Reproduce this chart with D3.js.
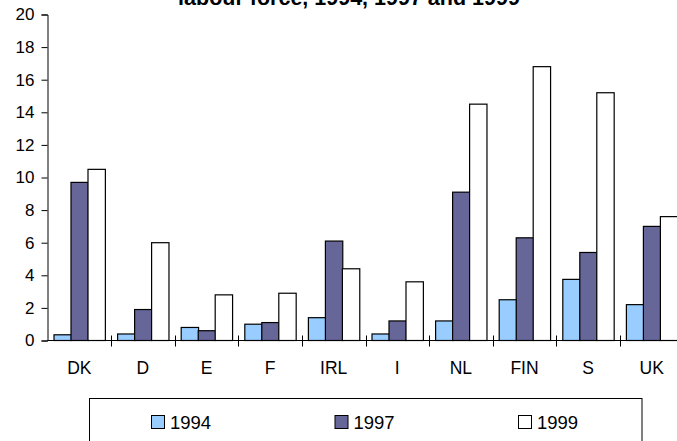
<!DOCTYPE html>
<html>
<head>
<meta charset="utf-8">
<script src="https://cdn.jsdelivr.net/npm/d3@7/dist/d3.min.js"></script>
<style>
  html, body { margin: 0; padding: 0; background: #fff; overflow: hidden; }
  svg { display: block; font-family: Arial, "Liberation Sans", sans-serif; }
</style>
</head>
<body>
<svg id="chart" width="677" height="441"></svg>
<script>
// ---- data ----
const categories = ["DK", "D", "E", "F", "IRL", "I", "NL", "FIN", "S", "UK"];
const seriesNames = ["1994", "1997", "1999"];
const values1994 = [0.35, 0.4, 0.8, 1.0, 1.4, 0.4, 1.2, 2.5, 3.75, 2.2];
const values1997 = [9.7, 1.9, 0.6, 1.1, 6.1, 1.2, 9.1, 6.3, 5.4, 7.0];
const values1999 = [10.5, 6.0, 2.8, 2.9, 4.4, 3.6, 14.5, 16.8, 15.2, 7.6];
const yTicks = [0, 2, 4, 6, 8, 10, 12, 14, 16, 18, 20];
const titleText = "labour force, 1994, 1997 and 1999";
const colors = ["#99CCFF", "#666699", "#FFFFFF"];

const seriesValues = [values1994, values1997, values1999];

const svg = d3.select("#chart");

const plotLeft = 47.5, plotRight = 683.5, plotTop = 14.5, plotBottom = 340.5;

const x0 = d3.scaleBand().domain(categories).range([plotLeft, plotRight]).paddingInner(0).paddingOuter(0);
const x1 = d3.scaleBand().domain(seriesNames).range([0, x0.bandwidth()]).paddingInner(0).paddingOuter(0.33);
const y = d3.scaleLinear().domain([0, 20]).range([plotBottom, plotTop]);

// title (partly cut off at top)
svg.append("text")
  .attr("x", 349).attr("y", 5)
  .attr("text-anchor", "middle")
  .attr("font-weight", "bold")
  .attr("font-size", "21.5px")
  .attr("fill", "#000")
  .text(titleText);

// bars
const groups = svg.append("g").selectAll("g")
  .data(categories)
  .join("g")
  .attr("transform", d => `translate(${x0(d)},0)`);

groups.selectAll("rect")
  .data((c, ci) => seriesNames.map((s, si) => ({ s, si, v: seriesValues[si][ci] })))
  .join("rect")
  .attr("x", d => Math.round(x1(d.s)) + 0.5)
  .attr("width", x1.bandwidth())
  .attr("y", d => y(d.v))
  .attr("height", d => y(0) - y(d.v))
  .attr("fill", d => colors[d.si])
  .attr("stroke", "#000")
  .attr("stroke-width", 1.2);

// y axis
const yAxis = d3.axisLeft(y).tickValues(yTicks).tickSize(6).tickPadding(7).tickFormat(d3.format("d"));
const gy = svg.append("g").attr("transform", `translate(${plotLeft},0)`).call(yAxis);
gy.select(".domain").attr("stroke", "#000");
gy.selectAll(".tick line").attr("stroke", "#000");
gy.selectAll(".tick text").attr("font-size", "17px").attr("font-family", "Arial, 'Liberation Sans', sans-serif").attr("fill", "#000");

// x axis line
svg.append("line")
  .attr("x1", plotLeft).attr("x2", 677)
  .attr("y1", plotBottom).attr("y2", plotBottom)
  .attr("stroke", "#000");

// category boundary ticks (crossing)
const boundaries = categories.slice(1).map(c => x0(c));
svg.append("g").selectAll("line")
  .data(boundaries)
  .join("line")
  .attr("x1", d => Math.round(d) + 0.5).attr("x2", d => Math.round(d) + 0.5)
  .attr("y1", plotBottom - 5).attr("y2", plotBottom + 6)
  .attr("stroke", "#000");

// category labels
svg.append("g").selectAll("text")
  .data(categories)
  .join("text")
  .attr("x", d => x0(d) + x0.bandwidth() / 2)
  .attr("y", 374)
  .attr("text-anchor", "middle")
  .attr("font-size", "17.5px")
  .attr("fill", "#000")
  .text(d => d);

// legend
const legend = svg.append("g");
legend.append("rect")
  .attr("x", 89.5).attr("y", 398.5)
  .attr("width", 552.5).attr("height", 60)
  .attr("fill", "#fff").attr("stroke", "#000");

const legendX = d3.scalePoint().domain(seriesNames).range([151, 518]);
const li = legend.selectAll("g.item")
  .data(seriesNames)
  .join("g")
  .attr("class", "item")
  .attr("transform", d => `translate(${legendX(d)},0)`);
li.append("rect")
  .attr("x", 0.5).attr("y", 415.5)
  .attr("width", 13).attr("height", 13)
  .attr("fill", (d, i) => colors[i])
  .attr("stroke", "#000");
li.append("text")
  .attr("x", 19).attr("y", 428.5)
  .attr("font-size", "18.5px")
  .attr("fill", "#000")
  .text(d => d);
</script>
</body>
</html>
